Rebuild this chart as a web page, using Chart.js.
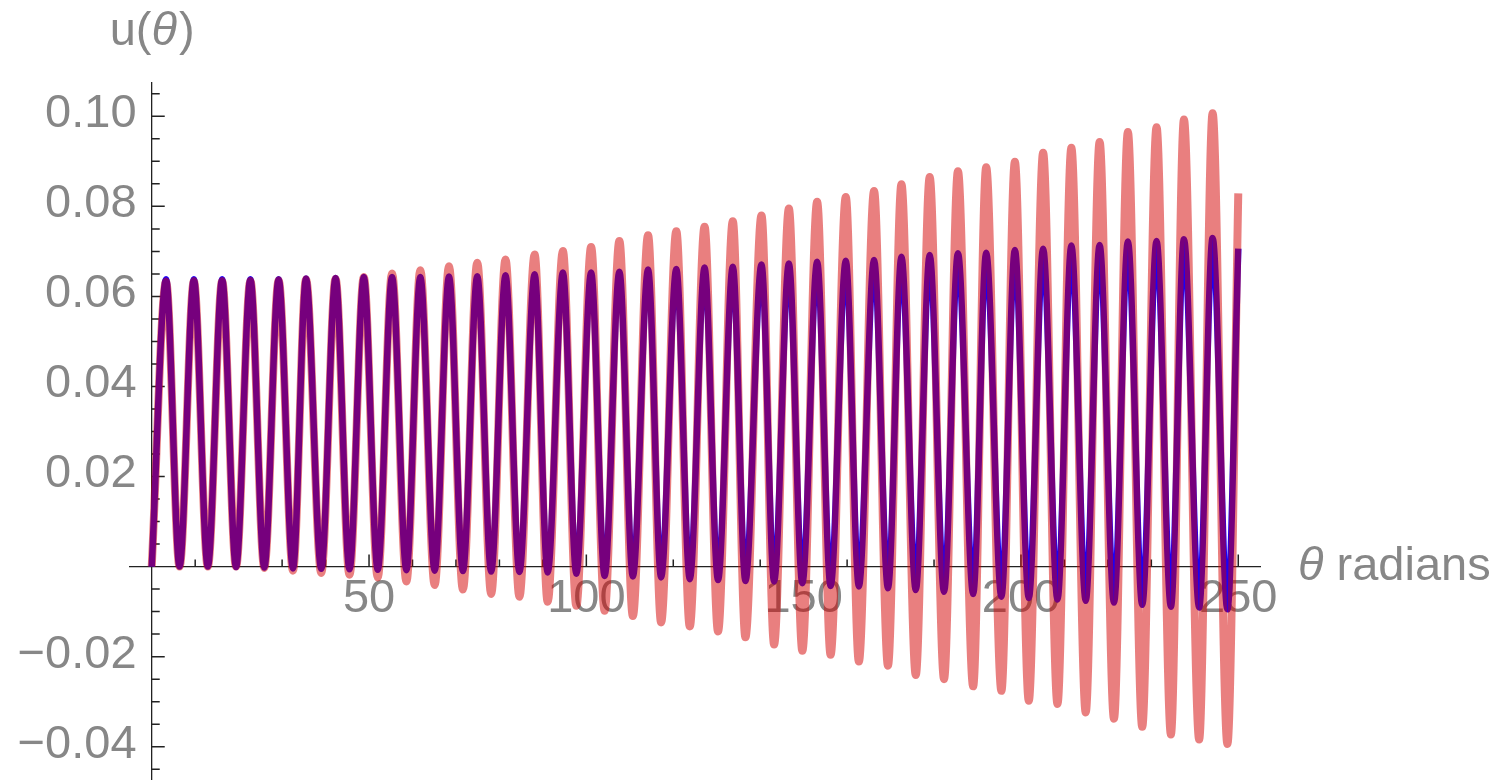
<!DOCTYPE html>
<html>
<head>
<meta charset="utf-8">
<title>u(θ)</title>
<script src="https://cdn.jsdelivr.net/npm/chart.js@4.4.0/dist/chart.umd.min.js"></script>
<style>
  html, body { margin: 0; padding: 0; background: #fff; }
  #wrap { width: 1503px; height: 780px; }
</style>
</head>
<body>
<div id="wrap"><canvas id="uChart" width="1503" height="780"></canvas></div>
<script>
// extrema (theta in radians)
var peakTheta = [3.3, 9.7, 16.2, 22.7, 29.2, 35.5, 42.3, 48.8, 55.3, 61.8, 68.4, 74.9, 81.4,
  88.1, 94.6, 101.1, 107.6, 114.2, 120.7, 127.2, 133.7, 140.3, 146.6, 153.1, 159.7, 166.2,
  172.5, 179.0, 185.5, 192.0, 198.6, 205.1, 211.6, 218.1, 224.6, 231.2, 237.5, 244.1];
var troughTheta = [6.4, 12.9, 19.4, 25.9, 32.5, 39.0, 45.5, 52.0, 58.6, 65.1, 71.6, 78.1,
  84.6, 91.1, 97.7, 104.2, 110.7, 117.2, 123.8, 130.3, 136.6, 143.2, 149.7, 156.2, 162.7,
  169.4, 175.8, 182.3, 189.0, 195.5, 201.8, 208.4, 214.9, 221.4, 227.9, 234.5, 241.0, 247.5];

var redPeaks = [0.0633, 0.0634, 0.0634, 0.0635, 0.0636, 0.0638, 0.0639, 0.0643, 0.0651, 0.0658,
  0.0667, 0.0675, 0.0682, 0.0693, 0.0701, 0.0710, 0.0723, 0.0736, 0.0745, 0.0755, 0.0767,
  0.0780, 0.0795, 0.0810, 0.0821, 0.0834, 0.0849, 0.0865, 0.0878, 0.0887, 0.0899, 0.0919,
  0.0930, 0.0943, 0.0965, 0.0976, 0.0993, 0.1007];
var redTroughs = [0.0000, 0.0000, 0.0000, -0.0003, -0.0009, -0.0014, -0.0018, -0.0024, -0.0033,
  -0.0041, -0.0051, -0.0061, -0.0067, -0.0078, -0.0087, -0.0098, -0.0110, -0.0124, -0.0133,
  -0.0144, -0.0157, -0.0173, -0.0187, -0.0196, -0.0211, -0.0220, -0.0241, -0.0250, -0.0266,
  -0.0276, -0.0298, -0.0305, -0.0324, -0.0338, -0.0356, -0.0373, -0.0384, -0.0394];

var bluePeaks = [0.0638, 0.0638, 0.0638, 0.0638, 0.0638, 0.0640, 0.0641, 0.0643, 0.0643, 0.0643,
  0.0644, 0.0645, 0.0647, 0.0649, 0.0653, 0.0653, 0.0655, 0.0660, 0.0661, 0.0664, 0.0666,
  0.0671, 0.0673, 0.0677, 0.0679, 0.0681, 0.0688, 0.0692, 0.0696, 0.0697, 0.0703, 0.0706,
  0.0713, 0.0714, 0.0722, 0.0723, 0.0727, 0.0730];
var blueTroughs = [0.0000, 0.0000, -0.0001, -0.0002, -0.0004, -0.0005, -0.0006, -0.0007, -0.0008,
  -0.0009, -0.0010, -0.0011, -0.0012, -0.0013, -0.0016, -0.0021, -0.0022, -0.0024, -0.0028,
  -0.0030, -0.0032, -0.0033, -0.0037, -0.0043, -0.0044, -0.0048, -0.0052, -0.0056, -0.0061,
  -0.0067, -0.0070, -0.0073, -0.0076, -0.0080, -0.0085, -0.0089, -0.0091, -0.0095];

// curve end points: [theta, red, blue]
var startPoint = [0, 0, 0];
var endPoint = [250, 0.0829, 0.0706];

var xTickValues = [50, 100, 150, 200, 250];
var yTickValues = [-0.04, -0.02, 0.02, 0.04, 0.06, 0.08, 0.10];

var labelFont = { family: "'Liberation Sans', Arial, sans-serif", size: 47 };
var labelGray = '#878787';


function buildCurve (peaks, troughs, idx) {
  var pts = [{ x: startPoint[0], y: startPoint[idx] }];
  for (var i = 0; i < peaks.length; i++) {
    pts.push({ x: peakTheta[i], y: peaks[i] });
    pts.push({ x: troughTheta[i], y: troughs[i] });
  }
  pts.push({ x: endPoint[0], y: endPoint[idx] });
  return pts;
}

function fmtY (v) {
  var s = Math.abs(v).toFixed(2);
  return v < 0 ? '\u2212' + s : s;
}

function noScalePadding (scale) {
  scale.paddingLeft = 0; scale.paddingRight = 0;
  scale.paddingTop = 0; scale.paddingBottom = 0;
}

// inward tick marks (major + minor) and the two axis titles
var axisDecor = {
  id: 'axisDecor',
  beforeDatasetsDraw: function (chart) {
    var ctx = chart.ctx;
    var xs = chart.scales.x, ys = chart.scales.y;
    var x0 = xs.getPixelForValue(0), y0 = ys.getPixelForValue(0);
    ctx.save();
    ctx.strokeStyle = '#222';
    ctx.lineWidth = 1.5;
    ctx.beginPath();
    for (var t = 10; t <= 250; t += 10) {
      var px = xs.getPixelForValue(t);
      var lx = (t % 50 === 0) ? 12 : 7;
      ctx.moveTo(px, y0); ctx.lineTo(px, y0 - lx);
    }
    for (var k = -9; k <= 21; k++) {
      if (k === 0) continue;
      var py = ys.getPixelForValue(k * 0.005);
      var ly = (k % 4 === 0) ? 13 : 8;
      ctx.moveTo(x0, py); ctx.lineTo(x0 + ly, py);
    }
    ctx.stroke();
    ctx.restore();
  },
  afterDraw: function (chart) {
    var ctx = chart.ctx;
    var xs = chart.scales.x, ys = chart.scales.y;
    var x0 = xs.getPixelForValue(0), y0 = ys.getPixelForValue(0);
    var normal = labelFont.size + "px " + labelFont.family;
    var italic = "italic " + normal;
    ctx.save();
    ctx.fillStyle = labelGray;
    ctx.textBaseline = 'alphabetic';
    ctx.textAlign = 'left';

    // u(θ) above the vertical axis
    var ux = x0 - 42, uy = chart.chartArea.top - 38;
    ctx.font = normal; ctx.fillText('u(', ux, uy);
    ux += ctx.measureText('u(').width;
    ctx.font = italic; ctx.fillText('θ', ux, uy);
    ux += ctx.measureText('θ').width + 2;
    ctx.font = normal; ctx.fillText(')', ux, uy);

    // θ radians right of the horizontal axis
    var rx = xs.right + 38, ry = y0 + 13;
    ctx.font = italic; ctx.fillText('θ', rx, ry);
    rx += ctx.measureText('θ').width;
    ctx.font = normal; ctx.fillText(' radians', rx, ry);
    ctx.restore();
  }
};

var ctx = document.getElementById('uChart').getContext('2d');
var uChart = new Chart(ctx, {
  type: 'line',
  data: {
    datasets: [
      {
        label: 'perturbative',
        data: buildCurve(redPeaks, redTroughs, 1),
        borderColor: 'rgba(212,0,0,0.5)',
        borderWidth: 8,
        order: 0
      },
      {
        label: 'numerical',
        data: buildCurve(bluePeaks, blueTroughs, 2),
        borderColor: 'rgb(25,0,250)',
        borderWidth: 6.5,
        order: 1
      }
    ]
  },
  options: {
    responsive: false,
    animation: false,
    devicePixelRatio: 1,
    layout: { padding: { left: 130, right: 243, top: 83, bottom: 0 } },
    elements: {
      point: { radius: 0, hoverRadius: 0 },
      line: { cubicInterpolationMode: 'monotone', borderJoinStyle: 'round', borderCapStyle: 'butt', fill: false }
    },
    plugins: { legend: { display: false }, tooltip: { enabled: false } },
    scales: {
      x: {
        type: 'linear', min: -5, max: 255,
        position: { y: 0 },
        grid: { display: false, drawTicks: false },
        border: { display: true, color: '#222', width: 1.3 },
        afterBuildTicks: function (scale) {
          scale.ticks = xTickValues.map(function (v) { return { value: v }; });
        },
        afterFit: noScalePadding,
        ticks: {
          color: labelGray, font: labelFont, padding: 4,
          maxRotation: 0, autoSkip: false,
          callback: function (v) { return String(v); }
        }
      },
      y: {
        type: 'linear', min: -0.0474, max: 0.1074,
        position: { x: 0 },
        grid: { display: false, drawTicks: false },
        border: { display: true, color: '#222', width: 1.3 },
        afterFit: noScalePadding,
        ticks: { display: false }
      },
      yLabels: {
        type: 'linear', min: -0.0474, max: 0.1074,
        position: { x: -3.5 },
        grid: { display: false, drawTicks: false },
        border: { display: false },
        afterBuildTicks: function (scale) {
          scale.ticks = yTickValues.map(function (v) { return { value: v }; });
        },
        afterFit: noScalePadding,
        ticks: {
          color: labelGray, font: labelFont, padding: 0, labelOffset: -2,
          autoSkip: false,
          callback: function (v) { return fmtY(v); }
        }
      }
    }
  },
  plugins: [axisDecor]
});
</script>
</body>
</html>
